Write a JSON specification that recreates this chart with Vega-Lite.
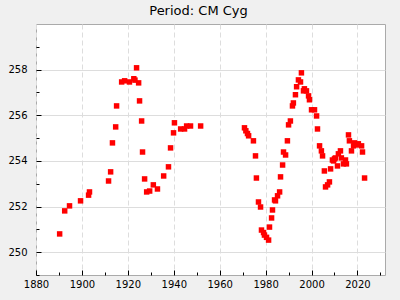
{
  "$schema": "https://vega.github.io/schema/vega-lite/v6.json",
  "width": 349,
  "height": 251,
  "autosize": {"type": "none"},
  "padding": {"left": 36, "top": 24, "right": 15, "bottom": 25},
  "background": "#f0f0f0",
  "config": {
    "view": {"fill": "#ffffff", "stroke": "#aaaaaa", "strokeWidth": 1},
    "axis": {"labelFont": "DejaVu Sans", "labelFontSize": 10, "labelColor": "#000000", "tickColor": "#000000", "domain": false, "title": null, "labelFlush": false}
  },
  "title": {"text": "Period: CM Cyg", "font": "DejaVu Sans", "fontSize": 13, "fontWeight": "normal", "color": "#000000", "anchor": "middle", "dx": -12, "offset": 6},
  "data": {"values": [
    {"year": 1890.3, "period": 250.80},
    {"year": 1892.5, "period": 251.81},
    {"year": 1894.6, "period": 252.03},
    {"year": 1899.4, "period": 252.25},
    {"year": 1902.9, "period": 252.50},
    {"year": 1903.3, "period": 252.64},
    {"year": 1911.6, "period": 253.12},
    {"year": 1912.5, "period": 253.52},
    {"year": 1913.3, "period": 254.79},
    {"year": 1914.7, "period": 255.49},
    {"year": 1915.1, "period": 256.41},
    {"year": 1917.3, "period": 257.46},
    {"year": 1918.6, "period": 257.51},
    {"year": 1920.7, "period": 257.46},
    {"year": 1922.6, "period": 257.60},
    {"year": 1923.1, "period": 257.54},
    {"year": 1923.8, "period": 258.08},
    {"year": 1924.7, "period": 257.42},
    {"year": 1925.1, "period": 256.63},
    {"year": 1926.0, "period": 255.75},
    {"year": 1926.4, "period": 254.39},
    {"year": 1927.3, "period": 253.21},
    {"year": 1928.2, "period": 252.64},
    {"year": 1929.5, "period": 252.68},
    {"year": 1931.1, "period": 252.95},
    {"year": 1932.9, "period": 252.77},
    {"year": 1935.6, "period": 253.34},
    {"year": 1937.7, "period": 253.74},
    {"year": 1938.6, "period": 254.57},
    {"year": 1939.9, "period": 255.23},
    {"year": 1940.3, "period": 255.67},
    {"year": 1943.0, "period": 255.40},
    {"year": 1944.7, "period": 255.40},
    {"year": 1945.6, "period": 255.53},
    {"year": 1947.3, "period": 255.53},
    {"year": 1951.7, "period": 255.53},
    {"year": 1970.8, "period": 255.45},
    {"year": 1971.4, "period": 255.32},
    {"year": 1972.1, "period": 255.20},
    {"year": 1972.6, "period": 255.10},
    {"year": 1974.7, "period": 254.88},
    {"year": 1975.6, "period": 254.22},
    {"year": 1976.0, "period": 253.25},
    {"year": 1976.9, "period": 252.20},
    {"year": 1977.8, "period": 251.98},
    {"year": 1978.2, "period": 250.97},
    {"year": 1979.1, "period": 250.86},
    {"year": 1979.5, "period": 250.75},
    {"year": 1980.4, "period": 250.65},
    {"year": 1981.3, "period": 250.53},
    {"year": 1981.7, "period": 251.10},
    {"year": 1982.6, "period": 251.50},
    {"year": 1983.0, "period": 251.85},
    {"year": 1983.9, "period": 252.29},
    {"year": 1984.3, "period": 252.25},
    {"year": 1985.2, "period": 252.47},
    {"year": 1986.1, "period": 252.64},
    {"year": 1986.5, "period": 253.30},
    {"year": 1987.4, "period": 253.82},
    {"year": 1987.8, "period": 254.39},
    {"year": 1988.7, "period": 254.26},
    {"year": 1989.5, "period": 254.88},
    {"year": 1990.0, "period": 255.58},
    {"year": 1990.8, "period": 255.75},
    {"year": 1991.7, "period": 256.41},
    {"year": 1992.1, "period": 256.54},
    {"year": 1993.0, "period": 256.90},
    {"year": 1993.5, "period": 257.25},
    {"year": 1994.3, "period": 257.55},
    {"year": 1995.2, "period": 257.46},
    {"year": 1995.6, "period": 257.86},
    {"year": 1996.5, "period": 257.07},
    {"year": 1996.9, "period": 257.16},
    {"year": 1997.8, "period": 257.07},
    {"year": 1998.7, "period": 256.85},
    {"year": 1999.1, "period": 256.68},
    {"year": 2000.0, "period": 256.24},
    {"year": 2001.3, "period": 256.24},
    {"year": 2002.2, "period": 255.97},
    {"year": 2002.6, "period": 255.40},
    {"year": 2003.5, "period": 254.66},
    {"year": 2004.3, "period": 254.44},
    {"year": 2004.8, "period": 254.22},
    {"year": 2005.6, "period": 253.56},
    {"year": 2006.1, "period": 252.86},
    {"year": 2007.0, "period": 252.95},
    {"year": 2007.8, "period": 253.08},
    {"year": 2008.3, "period": 253.65},
    {"year": 2009.1, "period": 254.04},
    {"year": 2009.6, "period": 254.00},
    {"year": 2010.0, "period": 254.09},
    {"year": 2010.4, "period": 254.13},
    {"year": 2011.3, "period": 253.78},
    {"year": 2011.7, "period": 254.31},
    {"year": 2012.6, "period": 254.44},
    {"year": 2013.0, "period": 254.13},
    {"year": 2013.9, "period": 253.87},
    {"year": 2014.8, "period": 254.04},
    {"year": 2015.2, "period": 253.87},
    {"year": 2016.1, "period": 255.14},
    {"year": 2016.5, "period": 254.88},
    {"year": 2017.4, "period": 254.44},
    {"year": 2018.3, "period": 254.66},
    {"year": 2018.7, "period": 254.79},
    {"year": 2019.6, "period": 254.70},
    {"year": 2020.4, "period": 254.75},
    {"year": 2021.8, "period": 254.66},
    {"year": 2022.2, "period": 254.39},
    {"year": 2023.1, "period": 253.25}
  ]},
  "layer": [
    {
      "mark": {"type": "point", "opacity": 0},
      "encoding": {
        "x": {"field": "year", "type": "quantitative", "scale": {"domain": [1880, 2032], "nice": false, "zero": false},
              "axis": {"orient": "bottom", "values": [1890, 1910, 1930, 1950, 1970, 1990, 2010, 2030], "labels": false, "grid": false, "tickSize": -3}},
        "y": {"field": "period", "type": "quantitative", "scale": {"domain": [249, 260], "nice": false, "zero": false},
              "axis": {"orient": "left", "values": [249, 251, 253, 255, 257, 259], "labels": false, "grid": false, "tickSize": -3}}
      }
    },
    {
      "mark": {"type": "point", "shape": "square", "filled": true, "color": "#ff0000", "size": 30, "opacity": 1},
      "encoding": {
        "x": {"field": "year", "type": "quantitative",
              "axis": {"orient": "bottom", "values": [1880, 1900, 1920, 1940, 1960, 1980, 2000, 2020], "format": "d", "grid": true, "gridColor": "#dddddd", "gridDash": [5, 3], "tickSize": -5, "labelPadding": 9}},
        "y": {"field": "period", "type": "quantitative",
              "axis": {"orient": "left", "values": [250, 252, 254, 256, 258], "format": "d", "grid": true, "gridColor": "#dddddd", "tickSize": -5, "labelPadding": 14}}
      }
    }
  ],
  "resolve": {"axis": {"x": "independent", "y": "independent"}}
}
